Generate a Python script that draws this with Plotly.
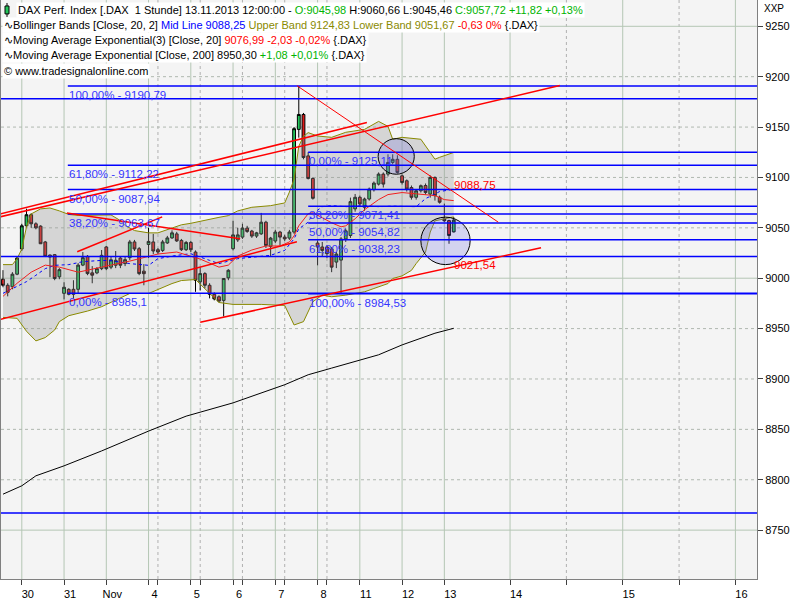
import plotly.graph_objects as go

# ---------------- data ----------------
# hourly DAX candles, 29.10.2013 14:00 ... 13.11.2013 12:00
OPEN = [8999, 8993, 8991.5, 9004, 9029, 9052, 9063, 9054, 9051.7, 9036,
        9023, 9023.4, 9001.4, 8985, 8989, 8989, 8989, 9013, 9021.7, 9005.3,
        9005.3, 9009.5, 9031, 9011, 9012.9, 9020, 9014.5, 9020.4, 9036, 9029.3,
        9007, 9033.5, 9036, 9028.3, 9027.6, 9035, 9040, 9044, 9037.5, 9028.3,
        9035.5, 9026, 8996.4, 9004.6, 8993, 8984, 8981.6, 8978, 9000.4, 9029.3,
        9038, 9040.8, 9049.7, 9046.8, 9041.8, 9044, 9055.6, 9031.6, 9036.9, 9045.8,
        9040.8, 9039.8, 9045.8, 9147.7, 9162.5, 9121.4, 9099, 9034.9, 9031, 9031,
        9029, 9016, 9018, 9039, 9042.4, 9068.8, 9080.3, 9070.4, 9078.6, 9087.8,
        9093.4, 9103.3, 9103.3, 9114.9, 9118, 9101.6, 9096.7, 9090, 9080.3, 9086.8,
        9092, 9083.5, 9100, 9080.3, 9059, 9057.2, 9045.98]
HIGH = [9008, 8995, 9006, 9022, 9054, 9069, 9064.5, 9055.5, 9052.5, 9037,
        9023.5, 9024, 9010, 8996, 8990, 8998, 9015, 9026, 9023, 9012,
        9011, 9028, 9032, 9022, 9027, 9022, 9022, 9038, 9038, 9031,
        9014, 9050, 9044, 9030, 9038, 9042, 9047.5, 9046, 9039, 9037,
        9037, 9027.6, 9011, 9006, 8995, 8986, 8983, 9000, 9009, 9057,
        9050, 9054, 9052, 9048, 9046, 9064.8, 9057, 9041, 9048, 9047,
        9043, 9048, 9150, 9190.79, 9164, 9125.11, 9100, 9037.5, 9036, 9033,
        9031, 9026, 9041, 9049, 9080, 9083.6, 9082, 9080, 9090, 9096,
        9105, 9105, 9123, 9123, 9122, 9103, 9098, 9092, 9088, 9093,
        9094, 9102, 9101, 9082, 9074, 9058, 9060.66]
LOW = [8991, 8982, 8989, 9003, 9027, 9051, 9050, 9048.5, 9034, 9021,
       9001, 8998, 8999, 8979, 8983, 8980, 8985, 9012, 9003, 8995,
       9004, 9008, 9008, 9009, 9010, 9010, 9012, 9018, 9027, 9003,
       8993, 9020, 9024, 9024, 9026, 9034, 9039, 9036, 9027, 9027,
       9026, 8986.5, 8988, 8990, 8980, 8978, 8976, 8962, 8998, 9027.6,
       9036, 9039, 9045, 9040, 9040, 9043, 9030, 9021, 9035, 9032.5,
       9037, 9038, 9044, 9139.5, 9118, 9098, 9078, 9012.8, 9022, 9020,
       9006, 9010, 8984.53, 9036, 9040, 9066, 9072, 9067, 9077, 9086,
       9092, 9090, 9101, 9113, 9104, 9093, 9086, 9078, 9078, 9085,
       9083, 9080, 9077, 9074, 9056, 9034.2, 9045.46]
CLOSE = [8993, 8986, 9004, 9020, 9052, 9063, 9054, 9050, 9034.2, 9021.7,
         9021, 8999.7, 9008.5, 8991, 8984, 8984, 9013, 9020.4, 9004.6, 9003,
         9009.5, 9022.7, 9009.5, 9018.3, 9017.8, 9012.9, 9018.4, 9036, 9029, 9004.6,
         9004.5, 9036.5, 9027, 9026, 9036, 9040, 9045, 9037, 9028.3, 9035.5,
         9028.3, 8998, 9004.6, 8993, 8984, 8979.5, 8977.3, 8999.7, 9007.9, 9043,
         9043, 9049.7, 9046.4, 9041.8, 9045, 9055.6, 9032.5, 9039.8, 9045.8, 9040.8,
         9039, 9045.8, 9148.4, 9162.5, 9119.8, 9099, 9079.3, 9031, 9027.6, 9024.4,
         9011, 9024, 9039, 9047, 9076, 9080.3, 9073.7, 9078.6, 9088.5, 9094.4,
         9103.3, 9093.4, 9114.9, 9118, 9105, 9095, 9088.5, 9080.3, 9086.8, 9091.8,
         9085, 9100, 9081.9, 9075.4, 9057, 9042.4, 9057.72]

# Bollinger Bands (20, 2) read at selected bars
UPPER_X = [0, 2, 3, 4, 5, 6, 8, 10, 12, 14, 16, 23, 25, 26, 28, 31, 33, 36, 38, 40,
           44, 46, 48, 50, 53, 57, 60, 61, 62, 63, 64, 65, 67, 70, 73, 77, 80, 82, 83, 85,
           89, 90, 92, 93, 96]
UPPER = [9013.5, 9013.5, 9019.4, 9029, 9051, 9063.8, 9068.8, 9069.7, 9066.8, 9063.3,
         9062.3, 9062.8, 9057.2, 9052.3, 9047.3, 9045, 9045, 9050, 9053, 9054.5,
         9058.9, 9060.4, 9062.1, 9066.8, 9070.4, 9072, 9074.7, 9085.5, 9098.4, 9131,
         9140.8, 9144.5, 9141.1, 9139.8, 9144.8, 9147.7, 9155.6, 9150.7, 9137.9, 9139.8,
         9137.9, 9131, 9118.1, 9120, 9124.83]
LOWER_X = [0, 3, 5, 7, 9, 11, 12, 14, 18, 21, 27, 31, 36, 38, 41, 44, 46, 49, 55, 60,
           62, 64, 65, 66, 68, 70, 73, 77, 79, 82, 83, 85, 87, 88, 90, 91, 92, 96]
LOWER = [8961.1, 8960.2, 8947.4, 8937.8, 8941.1, 8948.6, 8956.9, 8962.8, 8967.4, 8971.7,
         8984.8, 8984.8, 8994.7, 8997.7, 8998.7, 8984.8, 8975.9, 8974, 8974, 8973,
         8953.6, 8956.9, 8966.8, 8976.7, 8983.2, 8981.6, 8983.2, 8986.5, 8989.8, 8994.7,
         8999.7, 9002.3, 9007.8, 9014.5, 9026, 9045.8, 9056.9, 9060.9]
MID_X = [0, 5, 7, 9, 11, 14, 17, 21, 23, 27, 31, 33, 37, 40, 44, 46, 50, 53, 57, 60,
         62, 63, 65, 66, 68, 70, 73, 77, 80, 83, 88, 90, 93, 96]
MID = [8985, 8996.6, 9002.9, 9009.5, 9012.8, 9013.5, 9016.4, 9017.7, 9017.4, 9014.5,
       9012.8, 9019.4, 9022.7, 9024.3, 9017.7, 9014.5, 9019.4, 9021.1, 9022.7, 9027.6,
       9039.1, 9049, 9055.6, 9064, 9071, 9072, 9071, 9072, 9071, 9071.5,
       9071, 9079, 9086, 9088.25]

# Exponential moving averages
EMA20_X = [0, 3, 6, 9, 12, 16, 21, 27, 33, 37, 42, 46, 48, 50, 53, 56, 59, 61, 62, 63,
           65, 66, 68, 70, 72, 73, 75, 77, 80, 82, 85, 89, 92, 94, 96]
EMA20 = [8982, 8995, 9006, 9013, 9011, 9006, 9011, 9017, 9024, 9026,
         9019, 9011, 9013, 9022, 9028, 9032, 9032, 9036, 9042, 9052,
         9064, 9065, 9060, 9055, 9051, 9052, 9059, 9068, 9078, 9083,
         9085, 9083, 9082, 9078, 9076.99]
EMA200_X = [0, 4, 7, 13, 21, 31, 39, 49, 60, 65, 70, 75, 80, 85, 92, 96]
EMA200 = [8785.7, 8794, 8803.9, 8813.8, 8828.6, 8848.3, 8863.1, 8876.3, 8894.3, 8904.2,
          8910.8, 8917.4, 8924, 8933.8, 8945.4, 8950.3]

# Fibonacci retracements (start bar, levels, labels)
FIB1_START = 14
FIB1_LEVELS = [9190.79, 9112.22, 9087.94, 9063.67, 8985.1]
FIB1_LABELS = ["100,00% - 9190,79", "61,80% - 9112,22", "50,00% - 9087,94",
               "38,20% - 9063,67", "0,00% - 8985,1"]
FIB2_START = 65
FIB2_LEVELS = [9125.11, 9071.41, 9054.82, 9038.23, 8984.53]
FIB2_LABELS = ["0,00% - 9125,11", "38,20% - 9071,41", "50,00% - 9054,82",
               "61,80% - 9038,23", "100,00% - 8984,53"]
# full width horizontal lines
HLINES = [9178, 9021.54, 8767]
# trend lines: (bar0, price0, bar1, price1)
TRENDLINES = [(-1, 9063.3, 77.5, 9154.6), (-1, 9060.5, 118.6, 9191.2),
              (13.6, 9064.8, 50.5, 9039.1), (15.8, 9026.3, 33.9, 9060.9),
              (-1, 8958.5, 62.6, 9036.2), (42.0, 8956.2, 114.6, 9030.2)]
DOWNTREND = (62.6, 9191.1, 105.5, 9055.6)
# ellipses: (bar0, price_top, bar1, price_bottom)
CIRCLES = [(79.9, 9138.5, 87.6, 9103.2), (89.0, 9060.6, 99.5, 9013.5)]
LINE_LABELS = [("9088,75", 96, 9088.75, 4), ("9021,54", 96, 9021.54, -8)]

# axis ticks
DAY_TICKS = [4, 13, 22, 31, 40, 49, 58, 67, 76, 85, 94, 108, 132, 156]
DAY_LABELS = ["30", "31", "Nov", "4", "5", "6", "7", "8", "11", "12", "13", "14", "15", "16"]
MINOR_TICKS = [33, 42, 51, 60, 69, 120, 144]
Y_TICKS = list(range(8750, 9251, 50))
Y_MAJOR = [8750, 9000, 9250]

X = list(range(len(CLOSE)))
XMIN, XMAX = -0.43, 160.6
YMIN, YMAX = 8701.5, 9276.1

fig = go.Figure()

# Bollinger band fill + lines
fig.add_trace(go.Scatter(x=UPPER_X + LOWER_X[::-1], y=UPPER + LOWER[::-1], fill="toself",
                         fillcolor="rgba(150,150,150,0.32)", line=dict(width=0),
                         mode="lines", hoverinfo="skip"))
fig.add_trace(go.Scatter(x=UPPER_X, y=UPPER, mode="lines", line=dict(color="#8a8a00", width=1)))
fig.add_trace(go.Scatter(x=LOWER_X, y=LOWER, mode="lines", line=dict(color="#8a8a00", width=1)))
fig.add_trace(go.Scatter(x=MID_X, y=MID, mode="lines", line=dict(color="#0000ff", width=1, dash="dot")))
fig.add_trace(go.Scatter(x=EMA20_X, y=EMA20, mode="lines", line=dict(color="#f02020", width=1)))
fig.add_trace(go.Scatter(x=EMA200_X, y=EMA200, mode="lines", line=dict(color="black", width=1)))

fig.add_trace(go.Candlestick(
    x=X, open=OPEN, high=HIGH, low=LOW, close=CLOSE, whiskerwidth=0,
    increasing=dict(fillcolor="#22c45a", line=dict(color="black", width=1)),
    decreasing=dict(fillcolor="#e01818", line=dict(color="black", width=1))))

shapes = []
# grid
for t in DAY_TICKS:
    shapes.append(dict(type="line", xref="x", yref="paper", x0=t, x1=t, y0=0, y1=1,
                       layer="below", line=dict(color="#b4c6b4", width=1)))
for t in MINOR_TICKS:
    shapes.append(dict(type="line", xref="x", yref="paper", x0=t, x1=t, y0=0, y1=1,
                       layer="below", line=dict(color="#b0b0b0", width=1, dash="dot")))
for v in Y_TICKS:
    if v in Y_MAJOR:
        ln = dict(color="#b4c6b4", width=1)
    else:
        ln = dict(color="#b0b8b0", width=1, dash="dot")
    shapes.append(dict(type="line", xref="paper", yref="y", x0=0, x1=1, y0=v, y1=v,
                       layer="below", line=ln))

# ellipses
for (a0, p0, a1, p1) in CIRCLES:
    shapes.append(dict(type="circle", xref="x", yref="y", x0=a0, x1=a1, y0=p0, y1=p1,
                       fillcolor="rgba(110,110,225,0.25)", line=dict(color="black", width=1)))
# fib lines
for lv in FIB1_LEVELS:
    shapes.append(dict(type="line", xref="x", yref="y", x0=FIB1_START - 0.2, x1=XMAX + 1,
                       y0=lv, y1=lv, line=dict(color="#0000ff", width=1.5)))
for lv in FIB2_LEVELS:
    shapes.append(dict(type="line", xref="x", yref="y", x0=FIB2_START, x1=XMAX + 1,
                       y0=lv, y1=lv, line=dict(color="#0000ff", width=1.5)))
for lv in HLINES:
    shapes.append(dict(type="line", xref="x", yref="y", x0=XMIN - 1, x1=XMAX + 1,
                       y0=lv, y1=lv, line=dict(color="#0000ff", width=1.5)))
for (a0, p0, a1, p1) in TRENDLINES:
    shapes.append(dict(type="line", xref="x", yref="y", x0=a0, x1=a1, y0=p0, y1=p1,
                       line=dict(color="#ff0000", width=1.5)))
shapes.append(dict(type="line", xref="x", yref="y", x0=DOWNTREND[0], x1=DOWNTREND[2],
                   y0=DOWNTREND[1], y1=DOWNTREND[3], line=dict(color="#ff0000", width=1)))


def px(xp):
    return (xp - 1) / 756.0


def py(yp):
    return 1 - yp / 582.0


# legend icon (small green candle)
shapes.append(dict(type="line", xref="paper", yref="paper", x0=px(7), x1=px(7), y0=py(3), y1=py(17),
                   line=dict(color="black", width=1)))
shapes.append(dict(type="rect", xref="paper", yref="paper", x0=px(5), x1=px(9), y0=py(6), y1=py(14),
                   fillcolor="#22c45a", line=dict(color="black", width=1)))

ann = []
FONT = "Liberation Sans, Arial, sans-serif"
for lv, lab in zip(FIB1_LEVELS, FIB1_LABELS):
    ann.append(dict(x=FIB1_START - 0.2, y=lv, xref="x", yref="y", text=lab, showarrow=False,
                    xanchor="left", yanchor="top", yshift=-1, xshift=-1,
                    font=dict(family=FONT, size=11.5, color="#3434ff")))
for lv, lab in zip(FIB2_LEVELS, FIB2_LABELS):
    ann.append(dict(x=FIB2_START, y=lv, xref="x", yref="y", text=lab, showarrow=False,
                    xanchor="left", yanchor="top", yshift=-1, xshift=-1,
                    font=dict(family=FONT, size=11.5, color="#3434ff")))
for (lab, bx, val, sh) in LINE_LABELS:
    ann.append(dict(x=bx, y=val, xref="x", yref="y", text=lab, showarrow=False,
                    xanchor="left", yanchor="middle", yshift=sh, xshift=-2,
                    font=dict(family=FONT, size=11.5, color="#ff0000")))

GREEN = "#00b400"
legend_rows = [
    (16, 10, "DAX Perf. Index [.DAX  1 Stunde] 13.11.2013 12:00:00 - "
             f"<span style='color:{GREEN}'>O:9045,98</span> H:9060,66 L:9045,46 "
             f"<span style='color:{GREEN}'>C:9057,72 +11,82 +0,13%</span>"),
    (2, 25, "∿Bollinger Bands [Close, 20, 2] <span style='color:#0000ff'>Mid Line 9088,25</span> "
            "<span style='color:#8a8a00'>Upper Band 9124,83 Lower Band 9051,67</span> "
            "<span style='color:#ff0000'>-0,63 0%</span> {.DAX}"),
    (2, 40, "∿Moving Average Exponential(3) [Close, 20] "
            "<span style='color:#ff0000'>9076,99 -2,03 -0,02%</span> {.DAX}"),
    (2, 55, "∿Moving Average Exponential [Close, 200] 8950,30 "
            f"<span style='color:{GREEN}'>+1,08 +0,01%</span> {{.DAX}}"),
    (2, 71, "© www.tradesignalonline.com"),
]
for (xp, yp, txt) in legend_rows:
    ann.append(dict(x=px(xp), y=py(yp), xref="paper", yref="paper", text=txt, showarrow=False,
                    xanchor="left", yanchor="middle", bgcolor="white", borderpad=1,
                    font=dict(family=FONT, size=11, color="black")))
ann.append(dict(x=px(762), y=py(9), xref="paper", yref="paper", text="XXP", showarrow=False,
                xanchor="left", yanchor="middle", font=dict(family=FONT, size=10, color="black")))

fig.update_layout(
    width=800, height=600, margin=dict(l=1, r=43, t=0, b=18),
    paper_bgcolor="white", plot_bgcolor="#f4f4f4", showlegend=False,
    font=dict(family=FONT, size=11, color="black"), boxgap=0.15,
    shapes=shapes, annotations=ann,
)
fig.update_xaxes(range=[XMIN, XMAX], tickvals=DAY_TICKS + MINOR_TICKS,
                 ticktext=DAY_LABELS + [""] * len(MINOR_TICKS),
                 ticks="outside", ticklen=5, tickcolor="#404040", showgrid=False, zeroline=False,
                 showline=True, linecolor="#808080", linewidth=1, rangeslider_visible=False,
                 ticklabelshift=6, tickfont=dict(size=11))
fig.update_yaxes(range=[YMIN, YMAX], side="right", tickvals=Y_TICKS,
                 ticktext=[str(v) for v in Y_TICKS], ticks="outside", ticklen=5,
                 tickcolor="#404040", showgrid=False, zeroline=False, showline=True, mirror=True,
                 linecolor="#808080", linewidth=1, tickfont=dict(size=11))

fig.write_html("out.html", config={"displayModeBar": False},
               post_script="document.body.style.margin='0px';")
